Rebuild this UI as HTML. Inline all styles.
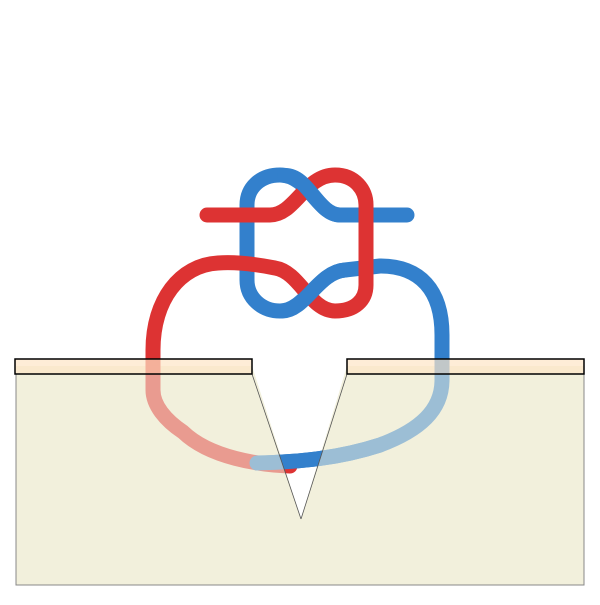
<!DOCTYPE html>
<html><head><style>html,body{margin:0;padding:0;background:#fff}</style></head><body>
<svg width="600" height="600" viewBox="0 0 600 600" xmlns="http://www.w3.org/2000/svg">
<rect x="16" y="366" width="568" height="219" fill="#f2f0dc"/>
<polygon points="252,366 301,519 347,366" fill="#fff"/>
<g fill="none" stroke-width="15" stroke-linecap="round" stroke-linejoin="round">
<path stroke="#3380cc" d="M407,215 L340,215 C318,215 308,175 280,175 C260,175 247,188 247,205 L247,280 C247,298 262,311 280,311 C305,311 318,272 345,270 L380,266 C420,266 442,290 442,335 L442,380 C442,410 420,430 380,445 C340,458 300,462 257,463"/>
<path stroke="#dd3333" d="M207,215 L270,215 C295,215 305,175 335,175 C355,175 366,190 366,205 L366,285 C366,300 355,311 335,311 C310,311 300,272 275,268 C250,263 232,262 218,263 C180,265 153,300 153,350 L153,390 C153,405 165,420 183,432 C210,458 260,465 290,466"/>
<path stroke="#3380cc" d="M340,215 C318,215 308,175 285,175.5"/>
<path stroke="#3380cc" d="M282,311 C305,311 318,272 345,270"/>
<path stroke="#3380cc" d="M380,445 C340,458 300,462 257,463"/>
</g>
<path fill="#f2f0dc" fill-opacity="0.55" fill-rule="evenodd" d="M16,374 H584 V585 H16 Z M252,374 L301,519 L347,374 Z"/>
<path d="M16,374 V585 H584 V374" fill="none" stroke="#888" stroke-width="1"/>
<line x1="252" y1="374" x2="301" y2="519" stroke="#555" stroke-width="0.8"/>
<line x1="347" y1="374" x2="301" y2="519" stroke="#555" stroke-width="0.8"/>
<rect x="15" y="359" width="237" height="15" fill="#fde6c6" fill-opacity="0.7" stroke="#000" stroke-width="1.5"/>
<rect x="347" y="359" width="237" height="15" fill="#fde6c6" fill-opacity="0.7" stroke="#000" stroke-width="1.5"/>
</svg>
</body></html>
